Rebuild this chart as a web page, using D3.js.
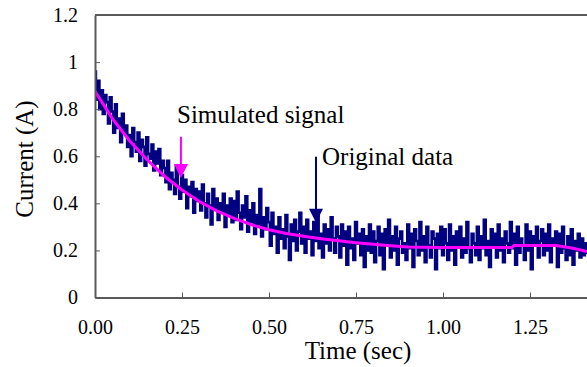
<!DOCTYPE html>
<html>
<head>
<meta charset="utf-8">
<script src="https://cdn.jsdelivr.net/npm/d3@7"></script>
<style>
  body { margin: 0; background: #fff; }
  .axis path, .axis line { stroke: #5a5a5a; }
</style>
</head>
<body>
<svg id="chart" width="587" height="367"></svg>
<script>
// measured signal, one value every 5 ms
const dataStep = 0.005;
const originalData = [
  0.96, 0.84, 0.92, 0.80, 0.88, 0.78, 0.86, 0.83, 0.74, 0.85, 0.79, 0.70, 0.82, 0.72, 0.76, 0.66, 0.78, 0.70, 0.73, 0.64,
  0.69, 0.60, 0.72, 0.66, 0.62, 0.70, 0.58, 0.67, 0.64, 0.56, 0.68, 0.61, 0.59, 0.65, 0.54, 0.62, 0.57, 0.63, 0.52, 0.58,
  0.55, 0.49, 0.58, 0.46, 0.53, 0.50, 0.44, 0.56, 0.47, 0.42, 0.52, 0.45, 0.50, 0.38, 0.47, 0.43, 0.49, 0.36, 0.46, 0.41,
  0.45, 0.37, 0.48, 0.40, 0.34, 0.44, 0.39, 0.31, 0.46, 0.38, 0.42, 0.33, 0.40, 0.36, 0.44, 0.30, 0.39, 0.35, 0.42, 0.32,
  0.41, 0.33, 0.45, 0.36, 0.29, 0.39, 0.34, 0.43, 0.28, 0.37, 0.32, 0.40, 0.27, 0.35, 0.31, 0.46, 0.26, 0.34, 0.29, 0.38,
  0.32, 0.22, 0.36, 0.27, 0.30, 0.19, 0.34, 0.25, 0.29, 0.21, 0.35, 0.26, 0.16, 0.31, 0.24, 0.33, 0.20, 0.28, 0.36, 0.23,
  0.30, 0.19, 0.33, 0.25, 0.28, 0.18, 0.32, 0.24, 0.35, 0.21, 0.27, 0.17, 0.31, 0.23, 0.29, 0.20, 0.34, 0.25, 0.19, 0.30,
  0.26, 0.17, 0.31, 0.22, 0.28, 0.14, 0.30, 0.21, 0.25, 0.16, 0.32, 0.23, 0.27, 0.18, 0.29, 0.13, 0.26, 0.20, 0.31, 0.19,
  0.28, 0.15, 0.24, 0.30, 0.18, 0.27, 0.12, 0.29, 0.22, 0.33, 0.17, 0.26, 0.20, 0.30, 0.14, 0.25, 0.28, 0.19, 0.23, 0.16,
  0.31, 0.21, 0.27, 0.13, 0.29, 0.24, 0.18, 0.32, 0.20, 0.26, 0.15, 0.30, 0.22, 0.17, 0.28, 0.25, 0.12, 0.27, 0.21, 0.30,
  0.18, 0.29, 0.23, 0.16, 0.31, 0.20, 0.26, 0.14, 0.28, 0.22, 0.30, 0.17, 0.25, 0.19, 0.32, 0.21, 0.15, 0.27, 0.23, 0.18,
  0.30, 0.16, 0.26, 0.21, 0.33, 0.18, 0.24, 0.13, 0.29, 0.22, 0.27, 0.17, 0.31, 0.20, 0.25, 0.15, 0.28, 0.23, 0.19, 0.32,
  0.21, 0.27, 0.14, 0.30, 0.19, 0.25, 0.22, 0.16, 0.31, 0.20, 0.28, 0.12, 0.26, 0.23, 0.30, 0.17, 0.24, 0.29, 0.18, 0.27,
  0.20, 0.31, 0.15, 0.25, 0.22, 0.28, 0.13, 0.27, 0.19, 0.30, 0.21, 0.16, 0.26, 0.18, 0.29, 0.14, 0.24, 0.20, 0.27, 0.17,
  0.25, 0.18, 0.23, 0.19
];

// simulated signal (time, current)
const simTimes = [0, 0.05, 0.10, 0.15, 0.20, 0.25, 0.30, 0.35, 0.40, 0.45, 0.50, 0.55, 0.60, 0.65, 0.70,
  0.75, 0.80, 0.85, 0.90, 0.95, 1.00, 1.10, 1.198, 1.204, 1.325, 1.37, 1.415];
const simValues = [0.876, 0.760, 0.665, 0.585, 0.515, 0.457, 0.408, 0.368, 0.336, 0.309, 0.288, 0.272, 0.260, 0.250, 0.241,
  0.233, 0.226, 0.220, 0.215, 0.213, 0.212, 0.212, 0.212, 0.221, 0.221, 0.210, 0.195];

const xTicks = [0, 0.25, 0.5, 0.75, 1.0, 1.25];
const yTicks = [0, 0.2, 0.4, 0.6, 0.8, 1, 1.2];

// annotation arrows: label, time, arrow top value, arrow tip value
const simArrow = {label: "Simulated signal", t: 0.247, from: 0.683, to: 0.508};
const origArrow = {label: "Original data", t: 0.635, from: 0.598, to: 0.318};

const serif = "'Liberation Serif', 'Times New Roman', serif";
const margin = {top: 15, left: 95, bottom: 70};
const svg = d3.select("#chart");
const width = +svg.attr("width");
const height = +svg.attr("height");

let xScale = d3.scaleLinear().domain([0, 1.5]).range([margin.left, margin.left + 522]);
let yScale = d3.scaleLinear().domain([0, 1.2]).range([height - margin.bottom + 0.5, margin.top]);

svg.append("clipPath").attr("id", "plot-clip")
  .append("rect")
  .attr("x", margin.left).attr("y", margin.top)
  .attr("width", width - margin.left).attr("height", yScale(0) - margin.top);

let plot = svg.append("g").attr("clip-path", "url(#plot-clip)");

let line = d3.line()
  .x(function(d) { return xScale(d[0]); })
  .y(function(d) { return yScale(d[1]); });

plot.append("path")
  .datum(originalData.map(function(v, i) { return [i * dataStep, v]; }))
  .attr("fill", "none")
  .attr("stroke", "#000080")
  .attr("stroke-width", 2.7)
  .attr("d", line.curve(d3.curveStep));

plot.append("path")
  .datum(simTimes.map(function(t, i) { return [t, simValues[i]]; }))
  .attr("fill", "none")
  .attr("stroke", "#ff00ff")
  .attr("stroke-width", 3)
  .attr("d", line.curve(d3.curveLinear));

// axes, ticks point inward
let yAxis = d3.axisLeft(yScale).tickValues(yTicks)
  .tickSizeInner(-5).tickSizeOuter(0).tickPadding(17)
  .tickFormat(function(d) { return String(+d.toFixed(1)); });
let xAxis = d3.axisBottom(xScale).tickValues(xTicks)
  .tickSizeInner(-5).tickSizeOuter(0).tickPadding(22)
  .tickFormat(d3.format(".2f"));

svg.append("g")
  .attr("class", "axis axis-y")
  .attr("transform", "translate(" + margin.left + ",0)")
  .call(yAxis);

svg.append("g")
  .attr("class", "axis axis-x")
  .attr("transform", "translate(0," + yScale(0) + ")")
  .call(xAxis);

svg.selectAll(".axis").attr("font-family", serif).attr("font-size", 20);
svg.selectAll(".axis text").attr("fill", "#000");
svg.selectAll(".axis .domain").attr("stroke-width", 2);

// top frame line
svg.append("line")
  .attr("x1", margin.left).attr("x2", width)
  .attr("y1", yScale(1.2)).attr("y2", yScale(1.2))
  .attr("stroke", "#5a5a5a").attr("stroke-width", 2);

svg.append("text")
  .attr("x", 358).attr("y", 359)
  .attr("text-anchor", "middle")
  .attr("font-family", serif)
  .attr("font-size", 25)
  .text("Time (sec)");

svg.append("text")
  .attr("transform", "translate(33,159) rotate(-90)")
  .attr("text-anchor", "middle")
  .attr("font-family", serif)
  .attr("font-size", 25)
  .text("Current (A)");

function drawArrow(a, color, labelX, labelY) {
  let x = xScale(a.t);
  let y1 = yScale(a.from), y2 = yScale(a.to);
  svg.append("line")
    .attr("x1", x).attr("x2", x)
    .attr("y1", y1).attr("y2", y2 - 12)
    .attr("stroke", color).attr("stroke-width", 2);
  svg.append("path")
    .attr("d", "M" + (x - 7) + "," + (y2 - 14) + "L" + (x + 7) + "," + (y2 - 14) + "L" + x + "," + y2 + "Z")
    .attr("fill", color);
  svg.append("text")
    .attr("x", labelX).attr("y", labelY)
    .attr("font-family", serif)
    .attr("font-size", 25)
    .text(a.label);
}

drawArrow(simArrow, "#ff00ff", 177, 123);
drawArrow(origArrow, "#000080", 322, 165);
</script>
</body>
</html>
